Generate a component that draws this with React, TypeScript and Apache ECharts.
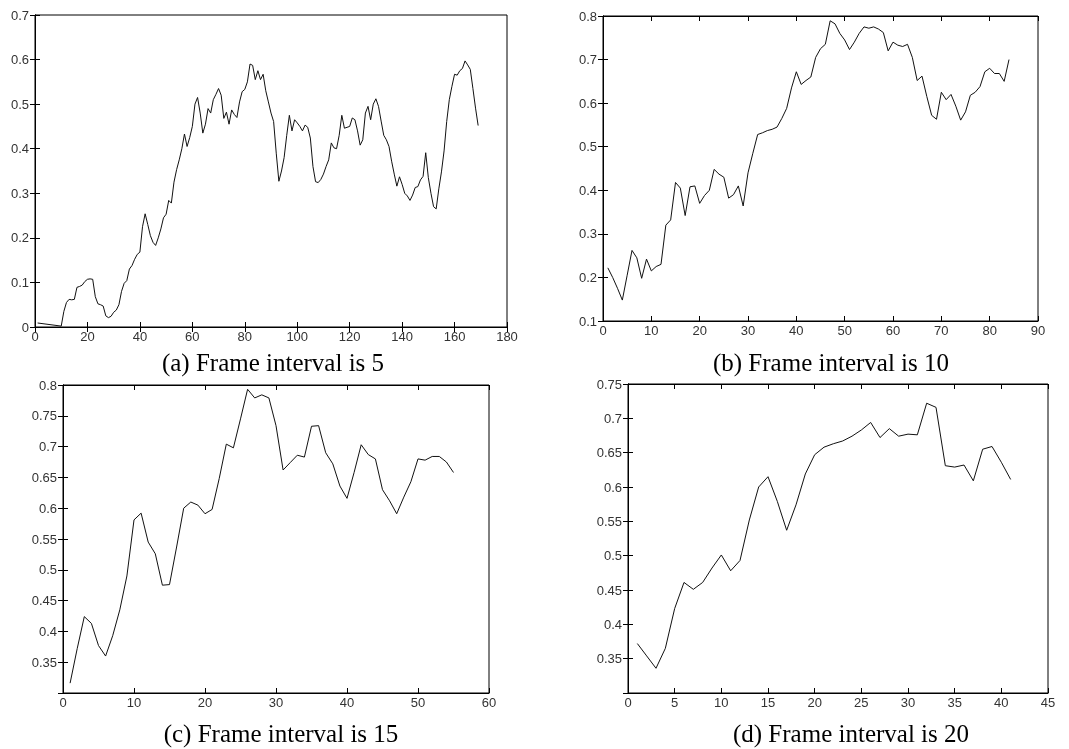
import React, { useEffect, useRef } from "react";
import * as echarts from "echarts";

// (a) frame interval 5: two lead-in samples, then values from frame 11 onwards
const aLeadFrames = [1, 10];
const aLeadValues = [0.009, 0.002];
const aStartFrame = 11;
const aValues = [
  0.035, 0.055, 0.062, 0.061, 0.062, 0.089, 0.091, 0.094, 0.102, 0.107,
  0.108, 0.107, 0.068, 0.052, 0.05, 0.047, 0.025, 0.021, 0.024, 0.033,
  0.038, 0.05, 0.08, 0.098, 0.104, 0.13, 0.138, 0.152, 0.163, 0.168,
  0.225, 0.254, 0.23, 0.205, 0.19, 0.183, 0.2, 0.22, 0.245, 0.253,
  0.284, 0.278, 0.325, 0.353, 0.375, 0.4, 0.433, 0.405, 0.425, 0.45,
  0.5, 0.515, 0.48, 0.435, 0.455, 0.49, 0.48, 0.51, 0.522, 0.535,
  0.52, 0.468, 0.482, 0.455, 0.487, 0.477, 0.47, 0.505, 0.528, 0.533,
  0.55, 0.59, 0.587, 0.555, 0.575, 0.555, 0.567, 0.53, 0.505, 0.48,
  0.461, 0.39, 0.327, 0.35, 0.38, 0.43, 0.475, 0.44, 0.465, 0.458,
  0.45, 0.44, 0.453, 0.448, 0.424, 0.36, 0.326, 0.324, 0.331, 0.343,
  0.36, 0.375, 0.413, 0.402, 0.4, 0.43, 0.475, 0.446, 0.448, 0.45,
  0.469, 0.465, 0.44, 0.408, 0.42, 0.48, 0.495, 0.465, 0.5, 0.512,
  0.495, 0.462, 0.43, 0.42, 0.405, 0.372, 0.343, 0.316, 0.337, 0.32,
  0.3, 0.294, 0.284, 0.296, 0.313, 0.315, 0.33, 0.338, 0.391, 0.335,
  0.3, 0.27, 0.265, 0.31, 0.348, 0.395, 0.461, 0.51, 0.54, 0.567,
  0.565, 0.575, 0.58, 0.597, 0.588, 0.578, 0.535, 0.491, 0.452,
];

// (b) frame interval 10, frames 1..84
const bValues = [
  0.222, 0.2, 0.175, 0.148, 0.205, 0.262, 0.245, 0.198, 0.242, 0.215,
  0.225, 0.23, 0.32, 0.332, 0.418, 0.405, 0.342, 0.408, 0.41, 0.37,
  0.388, 0.4, 0.448, 0.437, 0.43, 0.382, 0.39, 0.41, 0.364, 0.44,
  0.485, 0.528, 0.532, 0.537, 0.54, 0.545, 0.565, 0.588, 0.635, 0.672,
  0.643, 0.652, 0.66, 0.705, 0.725, 0.735, 0.789, 0.782, 0.76, 0.745,
  0.723, 0.74, 0.76, 0.775, 0.772, 0.775, 0.77, 0.762, 0.72, 0.74,
  0.733, 0.73, 0.735, 0.705, 0.652, 0.662, 0.615, 0.572, 0.563, 0.625,
  0.608, 0.62, 0.593, 0.561, 0.58, 0.618, 0.625, 0.638, 0.672, 0.68,
  0.668, 0.668, 0.65, 0.7,
];

// (c) frame interval 15, frames 1..55
const cValues = [
  0.316, 0.372, 0.424, 0.413, 0.377, 0.36, 0.393, 0.435, 0.49, 0.581,
  0.592, 0.545, 0.526, 0.475, 0.476, 0.537, 0.6, 0.61, 0.605, 0.591,
  0.598, 0.648, 0.704, 0.698, 0.745, 0.793, 0.779, 0.784, 0.779, 0.734,
  0.662, 0.674, 0.686, 0.683, 0.733, 0.734, 0.69, 0.672, 0.636, 0.616,
  0.658, 0.703, 0.687, 0.68, 0.63, 0.612, 0.591, 0.618, 0.643, 0.68,
  0.678, 0.684, 0.684, 0.675, 0.658,
];

// (d) frame interval 20, frames 1..41
const dValues = [
  0.372, 0.354, 0.336, 0.365, 0.423, 0.461, 0.451, 0.461, 0.482, 0.501,
  0.478, 0.493, 0.552, 0.6, 0.615, 0.579, 0.537, 0.574, 0.619, 0.647,
  0.658, 0.663, 0.667, 0.674, 0.683, 0.694, 0.672, 0.685, 0.674, 0.677,
  0.676, 0.722, 0.716, 0.631, 0.629, 0.632, 0.609, 0.655, 0.659, 0.636,
  0.611,
];

const captions = [
  "(a) Frame interval is 5",
  "(b) Frame interval is 10",
  "(c) Frame interval is 15",
  "(d) Frame interval is 20",
];

const xMaxes = [180, 90, 60, 45];
const xIntervals = [20, 10, 10, 5];
const yMins = [0, 0.1, 0.3, 0.3];
const yMaxes = [0.7, 0.8, 0.8, 0.75];
const yIntervals = [0.1, 0.1, 0.05, 0.05];
const hideMinLabel = [false, false, true, true];

const grids = [
  { left: 35, top: 15, width: 472, height: 312 },
  { left: 603, top: 16, width: 435, height: 305 },
  { left: 63, top: 385, width: 426, height: 308 },
  { left: 628, top: 384, width: 420, height: 309 },
];
const captionPos = [
  [273, 362],
  [831, 362],
  [281, 733],
  [851, 733],
];

function buildData(): number[][][] {
  const a: number[][] = aLeadFrames.map((f, i) => [f, aLeadValues[i]]);
  aValues.forEach((v, i) => a.push([aStartFrame + i, v]));
  const fromOne = (arr: number[]) => arr.map((v, i) => [i + 1, v]);
  return [a, fromOne(bValues), fromOne(cValues), fromOne(dValues)];
}

const mkLine = () => ({ show: true, lineStyle: { color: "#000", width: 1 } });
const mkTick = () => ({
  show: true,
  inside: true,
  length: 5,
  lineStyle: { color: "#000", width: 1 },
});
const mkLabel = (show: boolean, margin: number, showMin: boolean) =>
  show
    ? {
        show: true,
        fontFamily: "sans-serif",
        fontSize: 13,
        color: "#333",
        margin,
        showMinLabel: showMin,
        showMaxLabel: true,
      }
    : { show: false };

export default function App() {
  const ref = useRef<HTMLDivElement>(null);
  useEffect(() => {
    if (!ref.current) return;
    const chart = echarts.init(ref.current, undefined, { renderer: "svg" });
    const data = buildData();
    const xAxis: any[] = [];
    const yAxis: any[] = [];
    const series: any[] = [];
    for (let i = 0; i < 4; i++) {
      for (const pos of ["bottom", "top"]) {
        xAxis.push({
          type: "value",
          gridIndex: i,
          position: pos,
          min: 0,
          max: xMaxes[i],
          interval: xIntervals[i],
          axisLine: mkLine(),
          axisTick: mkTick(),
          axisLabel: mkLabel(pos === "bottom", 3, true),
          splitLine: { show: false },
        });
      }
      for (const pos of ["left", "right"]) {
        yAxis.push({
          type: "value",
          gridIndex: i,
          position: pos,
          min: yMins[i],
          max: yMaxes[i],
          interval: yIntervals[i],
          axisLine: mkLine(),
          axisTick: mkTick(),
          axisLabel: mkLabel(pos === "left", 6, !hideMinLabel[i]),
          splitLine: { show: false },
        });
      }
      series.push({
        type: "line",
        xAxisIndex: 2 * i,
        yAxisIndex: 2 * i,
        data: data[i],
        showSymbol: false,
        lineStyle: { color: "#111", width: 1 },
      });
      series.push({
        type: "line",
        xAxisIndex: 2 * i + 1,
        yAxisIndex: 2 * i + 1,
        data: [],
        showSymbol: false,
      });
    }
    const graphic = captions.map((t, i) => ({
      type: "text",
      x: captionPos[i][0],
      y: captionPos[i][1],
      style: {
        text: t,
        fill: "#000",
        font: "25px 'Liberation Serif', 'Times New Roman', serif",
        align: "center",
        verticalAlign: "middle",
      },
    }));
    chart.setOption({
      animation: false,
      grid: grids.map((g) => ({ ...g, show: true, borderColor: "#000", borderWidth: 1 })),
      xAxis,
      yAxis,
      series,
      graphic,
    });
    return () => chart.dispose();
  }, []);
  return (
    <div
      ref={ref}
      style={{ position: "fixed", left: 0, top: 0, width: 1069, height: 749 }}
    />
  );
}
